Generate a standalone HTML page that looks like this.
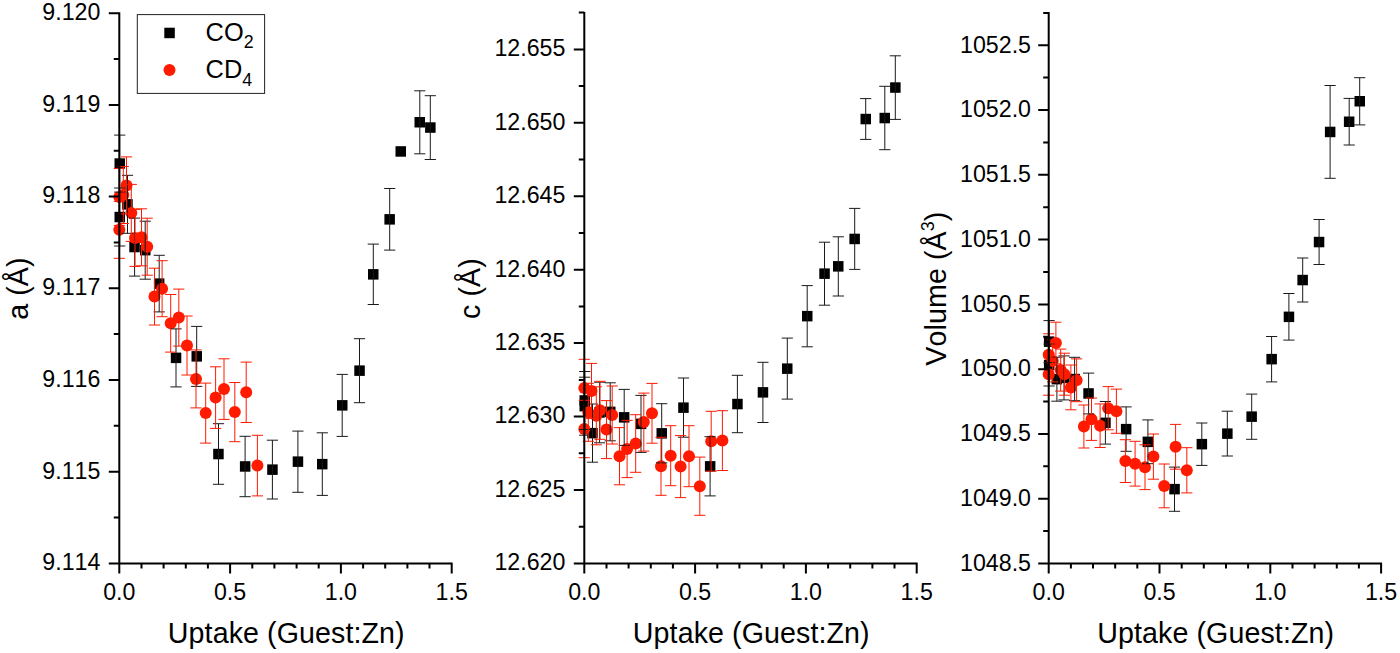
<!DOCTYPE html>
<html><head><meta charset="utf-8"><title>Lattice parameters vs uptake</title>
<style>
html,body{margin:0;padding:0;background:#fff;}
body{width:1400px;height:653px;overflow:hidden;}
svg{display:block;font-family:"Liberation Sans",sans-serif;font-kerning:none;}
.ax{stroke:#000;stroke-width:2;fill:none;}
.ek{stroke:#1a1a1a;stroke-width:1;fill:none;}
.er{stroke:#ff1a00;stroke-width:1;fill:none;}
.tk{font-size:23.2px;fill:#000;}
.tt{font-size:28.6px;fill:#000;letter-spacing:0.1px;}
.lg{font-size:25.4px;fill:#000;}
</style></head><body>
<svg width="1400" height="653" viewBox="0 0 1400 653">
<rect width="1400" height="653" fill="#fff"/>
<g class="pn">
<g fill="#000"><rect x="114.5" y="158.3" width="10.5" height="10.5"/><rect x="114.5" y="211.8" width="10.5" height="10.5"/><rect x="122.2" y="199.1" width="10.5" height="10.5"/><rect x="129.3" y="241.8" width="10.5" height="10.5"/><rect x="140.0" y="244.9" width="10.5" height="10.5"/><rect x="153.9" y="278.4" width="10.5" height="10.5"/><rect x="170.8" y="352.6" width="10.5" height="10.5"/><rect x="191.5" y="351.1" width="10.5" height="10.5"/><rect x="213.2" y="448.8" width="10.5" height="10.5"/><rect x="239.9" y="461.2" width="10.5" height="10.5"/><rect x="267.2" y="464.4" width="10.5" height="10.5"/><rect x="292.7" y="456.4" width="10.5" height="10.5"/><rect x="317.0" y="458.9" width="10.5" height="10.5"/><rect x="337.0" y="400.1" width="10.5" height="10.5"/><rect x="354.3" y="365.4" width="10.5" height="10.5"/><rect x="368.0" y="269.1" width="10.5" height="10.5"/><rect x="384.4" y="214.1" width="10.5" height="10.5"/><rect x="395.5" y="146.2" width="10.5" height="10.5"/><rect x="414.5" y="117.0" width="10.5" height="10.5"/><rect x="425.1" y="122.3" width="10.5" height="10.5"/></g>
<g fill="#ff1a00"><circle cx="119.3" cy="196.9" r="6"/><circle cx="123.3" cy="195.0" r="6"/><circle cx="126.5" cy="185.4" r="6"/><circle cx="119.3" cy="229.8" r="6"/><circle cx="131.3" cy="212.9" r="6"/><circle cx="135.0" cy="237.9" r="6"/><circle cx="141.5" cy="237.3" r="6"/><circle cx="147.2" cy="246.7" r="6"/><circle cx="154.5" cy="296.6" r="6"/><circle cx="162.1" cy="288.7" r="6"/><circle cx="170.7" cy="323.3" r="6"/><circle cx="178.8" cy="317.6" r="6"/><circle cx="187.0" cy="345.5" r="6"/><circle cx="196.0" cy="378.9" r="6"/><circle cx="205.7" cy="413.1" r="6"/><circle cx="215.6" cy="397.6" r="6"/><circle cx="224.0" cy="389.1" r="6"/><circle cx="234.8" cy="412.1" r="6"/><circle cx="246.2" cy="392.3" r="6"/><circle cx="257.4" cy="465.6" r="6"/></g>
<path d="M119.7 135.1V192.1M114.1 135.1h11.2M114.1 192.1h11.2M119.7 188.0V246.0M114.1 188.0h11.2M114.1 246.0h11.2M127.5 175.3V233.3M121.9 175.3h11.2M121.9 233.3h11.2M134.6 218.1V276.1M129.0 218.1h11.2M129.0 276.1h11.2M145.2 221.2V279.2M139.6 221.2h11.2M139.6 279.2h11.2M159.2 255.3V311.9M153.6 255.3h11.2M153.6 311.9h11.2M176.0 328.9V386.9M170.4 328.9h11.2M170.4 386.9h11.2M196.7 326.4V386.4M191.1 326.4h11.2M191.1 386.4h11.2M218.5 423.7V484.3M212.9 423.7h11.2M212.9 484.3h11.2M245.1 436.3V496.7M239.5 436.3h11.2M239.5 496.7h11.2M272.4 440.2V499.0M266.8 440.2h11.2M266.8 499.0h11.2M297.9 431.1V492.3M292.3 431.1h11.2M292.3 492.3h11.2M322.3 432.8V495.4M316.7 432.8h11.2M316.7 495.4h11.2M342.2 374.4V436.4M336.6 374.4h11.2M336.6 436.4h11.2M359.5 338.7V402.7M353.9 338.7h11.2M353.9 402.7h11.2M373.3 244.1V304.5M367.7 244.1h11.2M367.7 304.5h11.2M389.7 188.5V250.1M384.1 188.5h11.2M384.1 250.1h11.2M419.8 90.8V153.8M414.2 90.8h11.2M414.2 153.8h11.2M430.3 95.7V159.5M424.7 95.7h11.2M424.7 159.5h11.2" class="ek"/>
<path d="M119.3 168.4V225.4M113.7 168.4h11.2M113.7 225.4h11.2M123.3 166.5V223.5M117.7 166.5h11.2M117.7 223.5h11.2M126.5 156.9V213.9M120.9 156.9h11.2M120.9 213.9h11.2M119.3 201.3V258.3M113.7 201.3h11.2M113.7 258.3h11.2M131.3 184.4V241.4M125.7 184.4h11.2M125.7 241.4h11.2M135.0 209.4V266.4M129.4 209.4h11.2M129.4 266.4h11.2M141.5 208.8V265.8M135.9 208.8h11.2M135.9 265.8h11.2M147.2 218.2V275.2M141.6 218.2h11.2M141.6 275.2h11.2M154.5 268.2V325.0M148.9 268.2h11.2M148.9 325.0h11.2M162.1 260.7V316.7M156.5 260.7h11.2M156.5 316.7h11.2M170.7 294.5V352.1M165.1 294.5h11.2M165.1 352.1h11.2M178.8 289.1V346.1M173.2 289.1h11.2M173.2 346.1h11.2M187.0 316.0V375.0M181.4 316.0h11.2M181.4 375.0h11.2M196.0 349.9V407.9M190.4 349.9h11.2M190.4 407.9h11.2M205.7 383.1V443.1M200.1 383.1h11.2M200.1 443.1h11.2M215.6 366.8V428.4M210.0 366.8h11.2M210.0 428.4h11.2M224.0 358.8V419.4M218.4 358.8h11.2M218.4 419.4h11.2M234.8 382.5V441.7M229.2 382.5h11.2M229.2 441.7h11.2M246.2 362.1V422.5M240.6 362.1h11.2M240.6 422.5h11.2M257.4 435.3V495.9M251.8 435.3h11.2M251.8 495.9h11.2" class="er"/>
<path d="M119.3 12.2V564.4M118.3 563.4H452.7M108.8 563.4H119.3M113.8 517.5H119.3M108.8 471.7H119.3M113.8 425.8H119.3M108.8 380.0H119.3M113.8 334.1H119.3M108.8 288.3H119.3M113.8 242.4H119.3M108.8 196.6H119.3M113.8 150.7H119.3M108.8 104.9H119.3M113.8 59.0H119.3M108.8 13.2H119.3M119.3 563.4V573.4M141.5 563.4V568.4M163.6 563.4V568.4M185.8 563.4V568.4M207.9 563.4V568.4M230.1 563.4V573.4M252.3 563.4V568.4M274.4 563.4V568.4M296.6 563.4V568.4M318.7 563.4V568.4M340.9 563.4V573.4M363.1 563.4V568.4M385.2 563.4V568.4M407.4 563.4V568.4M429.5 563.4V568.4M451.7 563.4V573.4" class="ax"/>
<text x="100.4" y="570.2" class="tk" text-anchor="end">9.114</text>
<text x="100.4" y="478.5" class="tk" text-anchor="end">9.115</text>
<text x="100.4" y="386.8" class="tk" text-anchor="end">9.116</text>
<text x="100.4" y="295.1" class="tk" text-anchor="end">9.117</text>
<text x="100.4" y="203.4" class="tk" text-anchor="end">9.118</text>
<text x="100.4" y="111.7" class="tk" text-anchor="end">9.119</text>
<text x="100.4" y="20.0" class="tk" text-anchor="end">9.120</text>
<text x="119.3" y="599.6" class="tk" text-anchor="middle">0.0</text>
<text x="230.1" y="599.6" class="tk" text-anchor="middle">0.5</text>
<text x="340.9" y="599.6" class="tk" text-anchor="middle">1.0</text>
<text x="451.7" y="599.6" class="tk" text-anchor="middle">1.5</text>
<text x="286.3" y="642.9" class="tt" text-anchor="middle">Uptake (Guest:Zn)</text>
<text transform="translate(27.6 288.6) rotate(-90)" class="tt" text-anchor="middle">a (Å)</text>
</g>
<g class="pn">
<g fill="#000"><rect x="579.5" y="395.2" width="10.5" height="10.5"/><rect x="579.5" y="400.9" width="10.5" height="10.5"/><rect x="587.2" y="427.9" width="10.5" height="10.5"/><rect x="594.3" y="407.2" width="10.5" height="10.5"/><rect x="605.0" y="406.6" width="10.5" height="10.5"/><rect x="618.9" y="412.1" width="10.5" height="10.5"/><rect x="635.8" y="418.6" width="10.5" height="10.5"/><rect x="656.5" y="428.1" width="10.5" height="10.5"/><rect x="678.2" y="402.4" width="10.5" height="10.5"/><rect x="704.9" y="461.1" width="10.5" height="10.5"/><rect x="732.2" y="398.8" width="10.5" height="10.5"/><rect x="757.7" y="387.1" width="10.5" height="10.5"/><rect x="782.0" y="363.4" width="10.5" height="10.5"/><rect x="802.0" y="310.9" width="10.5" height="10.5"/><rect x="819.3" y="268.4" width="10.5" height="10.5"/><rect x="833.0" y="261.1" width="10.5" height="10.5"/><rect x="849.4" y="233.7" width="10.5" height="10.5"/><rect x="860.5" y="113.8" width="10.5" height="10.5"/><rect x="879.5" y="112.8" width="10.5" height="10.5"/><rect x="890.1" y="82.3" width="10.5" height="10.5"/></g>
<g fill="#ff1a00"><circle cx="584.3" cy="387.9" r="6"/><circle cx="588.3" cy="412.3" r="6"/><circle cx="591.5" cy="390.9" r="6"/><circle cx="584.3" cy="429.0" r="6"/><circle cx="596.3" cy="415.8" r="6"/><circle cx="600.0" cy="410.3" r="6"/><circle cx="606.5" cy="429.6" r="6"/><circle cx="612.2" cy="415.0" r="6"/><circle cx="619.5" cy="456.2" r="6"/><circle cx="627.1" cy="449.0" r="6"/><circle cx="635.7" cy="443.5" r="6"/><circle cx="643.8" cy="422.1" r="6"/><circle cx="652.0" cy="413.3" r="6"/><circle cx="661.0" cy="466.3" r="6"/><circle cx="670.7" cy="455.7" r="6"/><circle cx="680.6" cy="466.6" r="6"/><circle cx="689.0" cy="456.2" r="6"/><circle cx="699.8" cy="486.2" r="6"/><circle cx="711.2" cy="441.2" r="6"/><circle cx="722.4" cy="440.6" r="6"/></g>
<path d="M584.7 371.5V429.5M579.1 371.5h11.2M579.1 429.5h11.2M584.7 377.2V435.2M579.1 377.2h11.2M579.1 435.2h11.2M592.5 404.0V462.2M586.9 404.0h11.2M586.9 462.2h11.2M599.6 382.2V442.8M594.0 382.2h11.2M594.0 442.8h11.2M610.2 382.8V440.8M604.6 382.8h11.2M604.6 440.8h11.2M624.2 389.4V445.4M618.6 389.4h11.2M618.6 445.4h11.2M641.0 395.4V452.4M635.4 395.4h11.2M635.4 452.4h11.2M661.7 403.7V462.9M656.1 403.7h11.2M656.1 462.9h11.2M683.5 378.0V437.2M677.9 378.0h11.2M677.9 437.2h11.2M710.1 436.7V495.9M704.5 436.7h11.2M704.5 495.9h11.2M737.4 375.3V432.7M731.8 375.3h11.2M731.8 432.7h11.2M762.9 362.3V422.5M757.3 362.3h11.2M757.3 422.5h11.2M787.3 338.1V399.1M781.7 338.1h11.2M781.7 399.1h11.2M807.2 285.6V346.8M801.6 285.6h11.2M801.6 346.8h11.2M824.5 242.2V305.2M818.9 242.2h11.2M818.9 305.2h11.2M838.3 236.8V296.0M832.7 236.8h11.2M832.7 296.0h11.2M854.7 208.4V269.4M849.1 208.4h11.2M849.1 269.4h11.2M865.7 98.6V139.4M860.1 98.6h11.2M860.1 139.4h11.2M884.8 86.3V149.7M879.2 86.3h11.2M879.2 149.7h11.2M895.3 55.8V119.4M889.7 55.8h11.2M889.7 119.4h11.2" class="ek"/>
<path d="M584.3 359.3V416.5M578.7 359.3h11.2M578.7 416.5h11.2M588.3 383.3V441.3M582.7 383.3h11.2M582.7 441.3h11.2M591.5 363.4V418.4M585.9 363.4h11.2M585.9 418.4h11.2M584.3 400.3V457.7M578.7 400.3h11.2M578.7 457.7h11.2M596.3 386.8V444.8M590.7 386.8h11.2M590.7 444.8h11.2M600.0 381.3V439.3M594.4 381.3h11.2M594.4 439.3h11.2M606.5 400.6V458.6M600.9 400.6h11.2M600.9 458.6h11.2M612.2 386.0V444.0M606.6 386.0h11.2M606.6 444.0h11.2M619.5 427.6V484.8M613.9 427.6h11.2M613.9 484.8h11.2M627.1 420.4V477.6M621.5 420.4h11.2M621.5 477.6h11.2M635.7 414.7V472.3M630.1 414.7h11.2M630.1 472.3h11.2M643.8 393.1V451.1M638.2 393.1h11.2M638.2 451.1h11.2M652.0 383.4V443.2M646.4 383.4h11.2M646.4 443.2h11.2M661.0 437.3V495.3M655.4 437.3h11.2M655.4 495.3h11.2M670.7 425.7V485.7M665.1 425.7h11.2M665.1 485.7h11.2M680.6 435.6V497.6M675.0 435.6h11.2M675.0 497.6h11.2M689.0 425.7V486.7M683.4 425.7h11.2M683.4 486.7h11.2M699.8 457.1V515.3M694.2 457.1h11.2M694.2 515.3h11.2M711.2 411.3V471.1M705.6 411.3h11.2M705.6 471.1h11.2M722.4 410.7V470.5M716.8 410.7h11.2M716.8 470.5h11.2" class="er"/>
<path d="M584.3 11.9V564.4M583.3 563.4H917.7M573.8 563.5H584.3M578.8 526.8H584.3M573.8 490.1H584.3M578.8 453.3H584.3M573.8 416.6H584.3M578.8 379.9H584.3M573.8 343.1H584.3M578.8 306.4H584.3M573.8 269.7H584.3M578.8 233.0H584.3M573.8 196.2H584.3M578.8 159.5H584.3M573.8 122.8H584.3M578.8 86.1H584.3M573.8 49.4H584.3M578.8 12.6H584.3M584.3 563.4V573.4M606.5 563.4V568.4M628.6 563.4V568.4M650.8 563.4V568.4M672.9 563.4V568.4M695.1 563.4V573.4M717.3 563.4V568.4M739.4 563.4V568.4M761.6 563.4V568.4M783.7 563.4V568.4M805.9 563.4V573.4M828.1 563.4V568.4M850.2 563.4V568.4M872.4 563.4V568.4M894.5 563.4V568.4M916.7 563.4V573.4" class="ax"/>
<text x="565.4" y="570.3" class="tk" text-anchor="end">12.620</text>
<text x="565.4" y="496.9" class="tk" text-anchor="end">12.625</text>
<text x="565.4" y="423.4" class="tk" text-anchor="end">12.630</text>
<text x="565.4" y="349.9" class="tk" text-anchor="end">12.635</text>
<text x="565.4" y="276.5" class="tk" text-anchor="end">12.640</text>
<text x="565.4" y="203.1" class="tk" text-anchor="end">12.645</text>
<text x="565.4" y="129.6" class="tk" text-anchor="end">12.650</text>
<text x="565.4" y="56.2" class="tk" text-anchor="end">12.655</text>
<text x="584.3" y="599.6" class="tk" text-anchor="middle">0.0</text>
<text x="695.1" y="599.6" class="tk" text-anchor="middle">0.5</text>
<text x="805.9" y="599.6" class="tk" text-anchor="middle">1.0</text>
<text x="916.7" y="599.6" class="tk" text-anchor="middle">1.5</text>
<text x="751.3" y="642.9" class="tt" text-anchor="middle">Uptake (Guest:Zn)</text>
<text transform="translate(479.8 288.6) rotate(-90)" class="tt" text-anchor="middle">c (Å)</text>
</g>
<g class="pn">
<g fill="#000"><rect x="1043.9" y="336.4" width="10.5" height="10.5"/><rect x="1043.9" y="359.8" width="10.5" height="10.5"/><rect x="1051.6" y="373.9" width="10.5" height="10.5"/><rect x="1058.7" y="372.6" width="10.5" height="10.5"/><rect x="1069.4" y="373.8" width="10.5" height="10.5"/><rect x="1083.3" y="388.2" width="10.5" height="10.5"/><rect x="1100.2" y="417.6" width="10.5" height="10.5"/><rect x="1120.9" y="423.9" width="10.5" height="10.5"/><rect x="1142.6" y="436.6" width="10.5" height="10.5"/><rect x="1169.3" y="483.9" width="10.5" height="10.5"/><rect x="1196.6" y="438.9" width="10.5" height="10.5"/><rect x="1222.1" y="428.4" width="10.5" height="10.5"/><rect x="1246.4" y="411.4" width="10.5" height="10.5"/><rect x="1266.4" y="353.9" width="10.5" height="10.5"/><rect x="1283.7" y="311.6" width="10.5" height="10.5"/><rect x="1297.4" y="274.8" width="10.5" height="10.5"/><rect x="1313.8" y="236.8" width="10.5" height="10.5"/><rect x="1324.9" y="126.7" width="10.5" height="10.5"/><rect x="1343.9" y="116.5" width="10.5" height="10.5"/><rect x="1354.5" y="96.0" width="10.5" height="10.5"/></g>
<g fill="#ff1a00"><circle cx="1048.7" cy="354.8" r="6"/><circle cx="1052.7" cy="360.9" r="6"/><circle cx="1055.9" cy="343.0" r="6"/><circle cx="1048.7" cy="374.2" r="6"/><circle cx="1060.7" cy="370.1" r="6"/><circle cx="1064.4" cy="374.2" r="6"/><circle cx="1070.9" cy="387.4" r="6"/><circle cx="1076.6" cy="380.3" r="6"/><circle cx="1083.9" cy="426.5" r="6"/><circle cx="1091.5" cy="419.2" r="6"/><circle cx="1100.1" cy="425.7" r="6"/><circle cx="1108.2" cy="408.2" r="6"/><circle cx="1116.4" cy="411.2" r="6"/><circle cx="1125.4" cy="461.1" r="6"/><circle cx="1135.1" cy="463.7" r="6"/><circle cx="1145.0" cy="467.2" r="6"/><circle cx="1153.4" cy="456.6" r="6"/><circle cx="1164.2" cy="485.9" r="6"/><circle cx="1175.6" cy="446.8" r="6"/><circle cx="1186.8" cy="470.3" r="6"/></g>
<path d="M1049.1 320.6V362.6M1043.5 320.6h11.2M1043.5 362.6h11.2M1049.1 344.0V386.0M1043.5 344.0h11.2M1043.5 386.0h11.2M1056.9 357.2V401.2M1051.3 357.2h11.2M1051.3 401.2h11.2M1064.0 355.9V399.9M1058.4 355.9h11.2M1058.4 399.9h11.2M1074.6 357.3V400.7M1069.0 357.3h11.2M1069.0 400.7h11.2M1088.6 373.1V413.9M1083.0 373.1h11.2M1083.0 413.9h11.2M1105.4 401.5V444.1M1099.8 401.5h11.2M1099.8 444.1h11.2M1126.1 406.9V451.3M1120.5 406.9h11.2M1120.5 451.3h11.2M1147.9 419.9V463.7M1142.3 419.9h11.2M1142.3 463.7h11.2M1174.5 467.1V511.3M1168.9 467.1h11.2M1168.9 511.3h11.2M1201.8 423.0V465.4M1196.2 423.0h11.2M1196.2 465.4h11.2M1227.3 411.2V456.0M1221.7 411.2h11.2M1221.7 456.0h11.2M1251.7 394.1V439.3M1246.1 394.1h11.2M1246.1 439.3h11.2M1271.6 336.5V381.9M1266.0 336.5h11.2M1266.0 381.9h11.2M1288.9 293.5V340.1M1283.3 293.5h11.2M1283.3 340.1h11.2M1302.7 258.0V302.0M1297.1 258.0h11.2M1297.1 302.0h11.2M1319.1 219.5V264.5M1313.5 219.5h11.2M1313.5 264.5h11.2M1330.1 85.5V178.3M1324.5 85.5h11.2M1324.5 178.3h11.2M1349.2 98.4V145.0M1343.6 98.4h11.2M1343.6 145.0h11.2M1359.7 77.7V124.9M1354.1 77.7h11.2M1354.1 124.9h11.2" class="ek"/>
<path d="M1048.7 333.8V375.8M1043.1 333.8h11.2M1043.1 375.8h11.2M1052.7 339.9V381.9M1047.1 339.9h11.2M1047.1 381.9h11.2M1055.9 322.2V363.8M1050.3 322.2h11.2M1050.3 363.8h11.2M1048.7 353.2V395.2M1043.1 353.2h11.2M1043.1 395.2h11.2M1060.7 349.1V391.1M1055.1 349.1h11.2M1055.1 391.1h11.2M1064.4 353.2V395.2M1058.8 353.2h11.2M1058.8 395.2h11.2M1070.9 365.0V409.8M1065.3 365.0h11.2M1065.3 409.8h11.2M1076.6 358.9V401.7M1071.0 358.9h11.2M1071.0 401.7h11.2M1083.9 405.0V448.0M1078.3 405.0h11.2M1078.3 448.0h11.2M1091.5 398.0V440.4M1085.9 398.0h11.2M1085.9 440.4h11.2M1100.1 403.9V447.5M1094.5 403.9h11.2M1094.5 447.5h11.2M1108.2 386.6V429.8M1102.6 386.6h11.2M1102.6 429.8h11.2M1116.4 389.1V433.3M1110.8 389.1h11.2M1110.8 433.3h11.2M1125.4 439.7V482.5M1119.8 439.7h11.2M1119.8 482.5h11.2M1135.1 441.3V486.1M1129.5 441.3h11.2M1129.5 486.1h11.2M1145.0 444.8V489.6M1139.4 444.8h11.2M1139.4 489.6h11.2M1153.4 434.0V479.2M1147.8 434.0h11.2M1147.8 479.2h11.2M1164.2 464.0V507.8M1158.6 464.0h11.2M1158.6 507.8h11.2M1175.6 424.4V469.2M1170.0 424.4h11.2M1170.0 469.2h11.2M1186.8 447.7V492.9M1181.2 447.7h11.2M1181.2 492.9h11.2" class="er"/>
<path d="M1048.7 11.9V564.4M1047.7 563.4H1382.1M1038.2 563.5H1048.7M1043.2 531.1H1048.7M1038.2 498.7H1048.7M1043.2 466.3H1048.7M1038.2 433.9H1048.7M1043.2 401.6H1048.7M1038.2 369.2H1048.7M1043.2 336.8H1048.7M1038.2 304.4H1048.7M1043.2 272.0H1048.7M1038.2 239.6H1048.7M1043.2 207.2H1048.7M1038.2 174.8H1048.7M1043.2 142.4H1048.7M1038.2 110.0H1048.7M1043.2 77.6H1048.7M1038.2 45.3H1048.7M1043.2 12.9H1048.7M1048.7 563.4V573.4M1070.9 563.4V568.4M1093.0 563.4V568.4M1115.2 563.4V568.4M1137.3 563.4V568.4M1159.5 563.4V573.4M1181.7 563.4V568.4M1203.8 563.4V568.4M1226.0 563.4V568.4M1248.1 563.4V568.4M1270.3 563.4V573.4M1292.5 563.4V568.4M1314.6 563.4V568.4M1336.8 563.4V568.4M1358.9 563.4V568.4M1381.1 563.4V573.4" class="ax"/>
<text x="1031.0" y="570.7" class="tk" text-anchor="end">1048.5</text>
<text x="1031.0" y="505.9" class="tk" text-anchor="end">1049.0</text>
<text x="1031.0" y="441.1" class="tk" text-anchor="end">1049.5</text>
<text x="1031.0" y="376.4" class="tk" text-anchor="end">1050.0</text>
<text x="1031.0" y="311.6" class="tk" text-anchor="end">1050.5</text>
<text x="1031.0" y="246.8" class="tk" text-anchor="end">1051.0</text>
<text x="1031.0" y="182.0" class="tk" text-anchor="end">1051.5</text>
<text x="1031.0" y="117.2" class="tk" text-anchor="end">1052.0</text>
<text x="1031.0" y="52.5" class="tk" text-anchor="end">1052.5</text>
<text x="1048.7" y="599.6" class="tk" text-anchor="middle">0.0</text>
<text x="1159.5" y="599.6" class="tk" text-anchor="middle">0.5</text>
<text x="1270.3" y="599.6" class="tk" text-anchor="middle">1.0</text>
<text x="1381.1" y="599.6" class="tk" text-anchor="middle">1.5</text>
<text x="1215.7" y="642.9" class="tt" text-anchor="middle">Uptake (Guest:Zn)</text>
<text transform="translate(946.3 288.6) rotate(-90)" class="tt" text-anchor="middle" letter-spacing="0.4">Volume (Å<tspan dy="-12" font-size="18">3</tspan><tspan dy="12">)</tspan></text>
</g>
<rect x="137.3" y="14.6" width="127.3" height="78.8" fill="#fff" stroke="#222" stroke-width="1"/>
<rect x="164.3" y="27.7" width="10.5" height="10.5" fill="#000"/>
<circle cx="169.5" cy="70.1" r="6" fill="#ff1a00"/>
<text x="205.6" y="41.4" class="lg">CO<tspan dy="7" font-size="17.8">2</tspan></text>
<text x="205.6" y="78.3" class="lg">CD<tspan dy="7.3" font-size="17.8">4</tspan></text>
</svg>
</body></html>
